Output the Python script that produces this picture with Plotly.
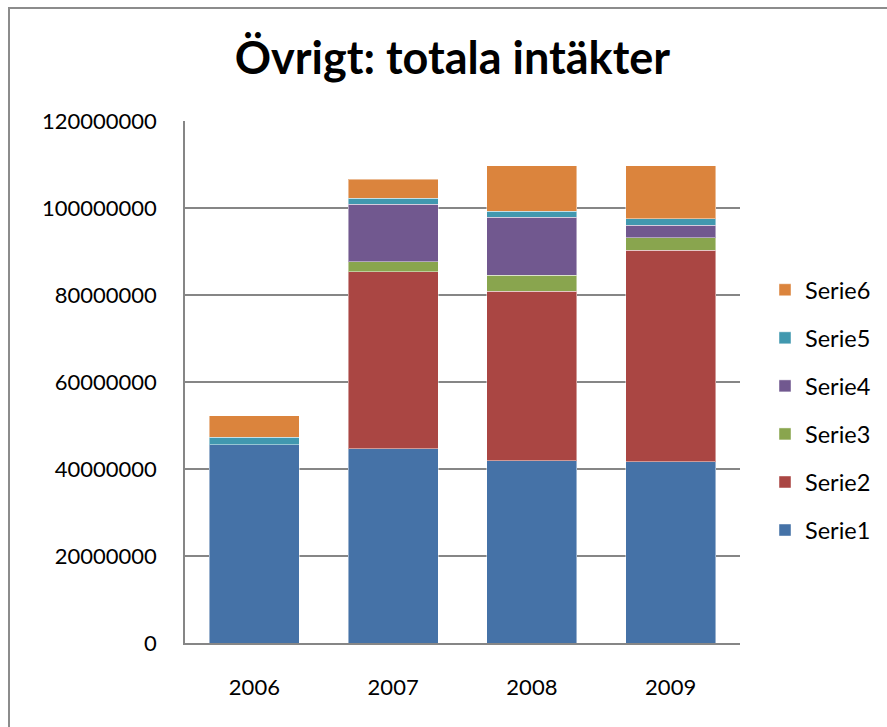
import plotly.graph_objects as go

years = ["2006", "2007", "2008", "2009"]
series_names = ["Serie1", "Serie2", "Serie3", "Serie4", "Serie5", "Serie6"]
serie1 = [45600000, 44700000, 41900000, 41700000]
serie2 = [0, 40700000, 39000000, 48600000]
serie3 = [0, 2300000, 3600000, 2900000]
serie4 = [0, 13200000, 13400000, 2800000]
serie5 = [1700000, 1400000, 1400000, 1500000]
serie6 = [4900000, 4300000, 10400000, 12200000]
colors = ["#4572A7", "#AA4643", "#89A54E", "#71588F", "#4198AF", "#DB843D"]
y_ticks = [0, 20000000, 40000000, 60000000, 80000000, 100000000, 120000000]

values = [serie1, serie2, serie3, serie4, serie5, serie6]

W, H = 887, 727
ml, mr, mt, mb = 185, 147, 121, 84
pw, ph = W - ml - mr, H - mt - mb

fig = go.Figure()
n = len(series_names)
for i, (name, vals, col) in enumerate(zip(series_names, values, colors)):
    fig.add_trace(go.Bar(
        name=name, x=years, y=vals, legendgroup=name,
        legendrank=1000 + (n - i),  # top of the stack listed first
        marker=dict(color=col, line=dict(color="rgba(255,255,255,0.45)", width=1)),
    ))

font = "Lato, Carlito, Calibri, sans-serif"
fig.update_layout(
    width=W, height=H,
    margin=dict(l=ml, r=mr, t=mt, b=mb, autoexpand=False),
    barmode="stack", bargap=0.35,
    plot_bgcolor="white", paper_bgcolor="white",
    font=dict(family=font, size=22, color="black"),
    title=dict(text="<b>Övrigt: totala intäkter</b>", x=0.51, xanchor="center",
               y=1 - 58 / H, yanchor="middle", font=dict(size=45, family=font)),
    legend=dict(x=(765 - ml) / pw, xanchor="left", y=(643 - 268) / ph, yanchor="top",
                traceorder="grouped", tracegroupgap=14.5,
                font=dict(size=23.5), bgcolor="rgba(0,0,0,0)"),
    showlegend=True,
)
fig.update_yaxes(range=[0, 120000000], tickvals=y_ticks,
                 ticktext=[str(v) for v in y_ticks],
                 showgrid=True, gridcolor="#868686", gridwidth=1.5,
                 showline=True, linecolor="#868686", linewidth=1.5,
                 zeroline=False, ticks="", ticklabelstandoff=22)
fig.update_xaxes(showline=True, linecolor="#868686", linewidth=1.5,
                 ticks="", ticklabelstandoff=24)

# chart frame
fig.add_shape(type="rect", xref="paper", yref="paper",
              x0=(9 - ml) / pw, x1=(W + 20 - ml) / pw,
              y0=(643 - (H + 20)) / ph, y1=(643 - 8) / ph,
              line=dict(color="#8c8c8c", width=2), fillcolor="rgba(0,0,0,0)",
              layer="below")

fig.write_html("out.html")
